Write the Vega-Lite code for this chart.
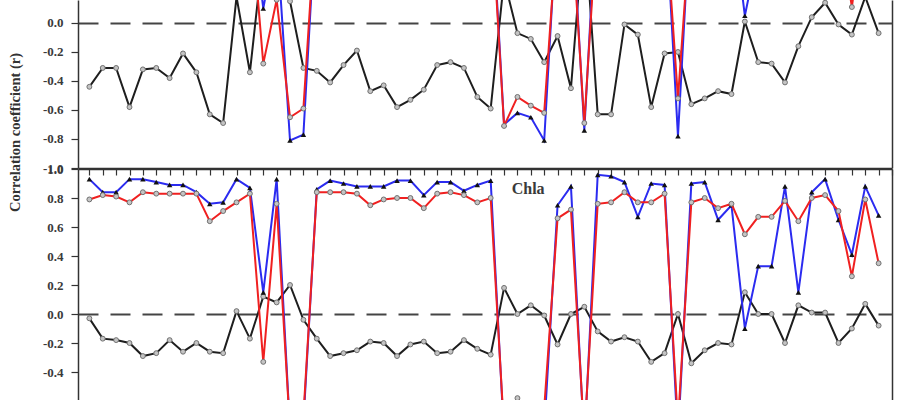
{
  "$schema": "https://vega.github.io/schema/vega-lite/v6.json",
  "background": "white",
  "padding": {"left": 7, "right": 8, "top": 0, "bottom": 0},
  "bounds": "flush",
  "spacing": 1,
  "config": {
    "view": {"stroke": null},
    "axis": {
      "labelFont": "Liberation Serif", "labelFontWeight": "bold", "labelFontSize": 13, "labelColor": "#3a3a3a",
      "domainColor": "#333333", "domainWidth": 1.5, "tickColor": "#333333", "tickWidth": 1.2,
      "titleFont": "Liberation Serif", "titleFontWeight": "bold", "titleFontSize": 14.5, "titleColor": "#333333"
    }
  },
  "datasets": {
    "top": [
      {"i":0,"black":-0.44,"blue":0.92,"red":0.80},{"i":1,"black":-0.31,"blue":0.85,"red":0.82},{"i":2,"black":-0.31,"blue":0.85,"red":0.81},
      {"i":3,"black":-0.58,"blue":0.92,"red":0.78},{"i":4,"black":-0.32,"blue":0.92,"red":0.84},{"i":5,"black":-0.31,"blue":0.90,"red":0.83},
      {"i":6,"black":-0.38,"blue":0.89,"red":0.83},{"i":7,"black":-0.21,"blue":0.89,"red":0.83},{"i":8,"black":-0.34,"blue":0.85,"red":0.83},
      {"i":9,"black":-0.63,"blue":0.77,"red":0.66},{"i":10,"black":-0.69,"blue":0.78,"red":0.72},{"i":11,"black":0.18,"blue":0.90,"red":0.77},
      {"i":12,"black":-0.34,"blue":0.87,"red":0.82},{"i":13,"black":0.50,"blue":0.10,"red":-0.28},{"i":14,"black":0.50,"blue":0.60,"red":0.16},
      {"i":15,"black":0.15,"blue":-0.81,"red":-0.65},{"i":16,"black":-0.31,"blue":-0.77,"red":-0.59},{"i":17,"black":-0.33,"blue":0.86,"red":0.84},
      {"i":18,"black":-0.41,"blue":0.92,"red":0.84},{"i":19,"black":-0.29,"blue":0.90,"red":0.84},{"i":20,"black":-0.19,"blue":0.88,"red":0.83},
      {"i":21,"black":-0.47,"blue":0.88,"red":0.76},{"i":22,"black":-0.43,"blue":0.88,"red":0.79},{"i":23,"black":-0.58,"blue":0.92,"red":0.80},
      {"i":24,"black":-0.53,"blue":0.92,"red":0.80},{"i":25,"black":-0.46,"blue":0.83,"red":0.74},{"i":26,"black":-0.29,"blue":0.91,"red":0.83},
      {"i":27,"black":-0.27,"blue":0.91,"red":0.84},{"i":28,"black":-0.31,"blue":0.85,"red":0.82},{"i":29,"black":-0.51,"blue":0.89,"red":0.78},
      {"i":30,"black":-0.59,"blue":0.92,"red":0.85},{"i":31,"black":0.30,"blue":-0.70,"red":-0.71},{"i":32,"black":-0.07,"blue":-0.62,"red":-0.51},
      {"i":33,"black":-0.11,"blue":-0.65,"red":-0.57},{"i":34,"black":-0.27,"blue":-0.81,"red":-0.62},{"i":35,"black":-0.09,"blue":0.80,"red":0.70},
      {"i":36,"black":-0.45,"blue":0.88,"red":0.75},{"i":37,"black":0.70,"blue":-0.74,"red":-0.69},{"i":38,"black":-0.63,"blue":0.95,"red":0.78},
      {"i":39,"black":-0.63,"blue":0.94,"red":0.78},{"i":40,"black":-0.01,"blue":0.90,"red":0.83},{"i":41,"black":-0.08,"blue":0.70,"red":0.78},
      {"i":42,"black":-0.58,"blue":0.90,"red":0.78},{"i":43,"black":-0.21,"blue":0.89,"red":0.82},{"i":44,"black":-0.20,"blue":-0.78,"red":-0.52},
      {"i":45,"black":-0.56,"blue":0.90,"red":0.78},{"i":46,"black":-0.52,"blue":0.90,"red":0.80},{"i":47,"black":-0.47,"blue":0.70,"red":0.74},
      {"i":48,"black":-0.49,"blue":0.80,"red":0.76},{"i":49,"black":0.01,"blue":0.05,"red":0.55},{"i":50,"black":-0.27,"blue":0.50,"red":0.68},
      {"i":51,"black":-0.28,"blue":0.50,"red":0.68},{"i":52,"black":-0.41,"blue":0.88,"red":0.78},{"i":53,"black":-0.16,"blue":0.40,"red":0.65},
      {"i":54,"black":0.04,"blue":0.85,"red":0.80},{"i":55,"black":0.14,"blue":0.92,"red":0.82},{"i":56,"black":-0.01,"blue":0.70,"red":0.72},
      {"i":57,"black":-0.08,"blue":0.50,"red":0.11},{"i":58,"black":0.18,"blue":0.88,"red":0.80},{"i":59,"black":-0.07,"blue":0.70,"red":0.50}
    ],
    "bottom": [
      {"i":0,"black":-0.03,"blue":0.93,"red":0.79},{"i":1,"black":-0.17,"blue":0.84,"red":0.82},{"i":2,"black":-0.18,"blue":0.84,"red":0.81},
      {"i":3,"black":-0.20,"blue":0.93,"red":0.77},{"i":4,"black":-0.29,"blue":0.93,"red":0.84},{"i":5,"black":-0.27,"blue":0.91,"red":0.83},
      {"i":6,"black":-0.18,"blue":0.89,"red":0.83},{"i":7,"black":-0.26,"blue":0.89,"red":0.83},{"i":8,"black":-0.20,"blue":0.84,"red":0.83},
      {"i":9,"black":-0.26,"blue":0.76,"red":0.64},{"i":10,"black":-0.27,"blue":0.77,"red":0.71},{"i":11,"black":0.02,"blue":0.93,"red":0.77},
      {"i":12,"black":-0.17,"blue":0.87,"red":0.83},{"i":13,"black":0.12,"blue":0.15,"red":-0.33},{"i":14,"black":0.08,"blue":0.93,"red":0.76},
      {"i":15,"black":0.20,"blue":-0.80,"red":-0.80},{"i":16,"black":-0.04,"blue":-0.75,"red":-0.70},{"i":17,"black":-0.17,"blue":0.86,"red":0.84},
      {"i":18,"black":-0.29,"blue":0.92,"red":0.84},{"i":19,"black":-0.27,"blue":0.90,"red":0.84},{"i":20,"black":-0.25,"blue":0.88,"red":0.83},
      {"i":21,"black":-0.19,"blue":0.88,"red":0.75},{"i":22,"black":-0.20,"blue":0.88,"red":0.79},{"i":23,"black":-0.29,"blue":0.92,"red":0.80},
      {"i":24,"black":-0.21,"blue":0.92,"red":0.80},{"i":25,"black":-0.19,"blue":0.82,"red":0.73},{"i":26,"black":-0.27,"blue":0.91,"red":0.83},
      {"i":27,"black":-0.26,"blue":0.91,"red":0.84},{"i":28,"black":-0.18,"blue":0.85,"red":0.82},{"i":29,"black":-0.24,"blue":0.89,"red":0.77},
      {"i":30,"black":-0.28,"blue":0.92,"red":0.80},{"i":31,"black":0.18,"blue":-0.85,"red":-0.80},{"i":32,"black":0.00,"blue":-0.70,"red":-0.58},
      {"i":33,"black":0.06,"blue":-0.75,"red":-0.70},{"i":34,"black":-0.01,"blue":-0.80,"red":-0.65},{"i":35,"black":-0.21,"blue":0.75,"red":0.66},
      {"i":36,"black":0.00,"blue":0.88,"red":0.72},{"i":37,"black":0.05,"blue":-0.90,"red":-0.85},{"i":38,"black":-0.12,"blue":0.96,"red":0.76},
      {"i":39,"black":-0.19,"blue":0.95,"red":0.77},{"i":40,"black":-0.16,"blue":0.91,"red":0.84},{"i":41,"black":-0.19,"blue":0.67,"red":0.77},
      {"i":42,"black":-0.33,"blue":0.90,"red":0.77},{"i":43,"black":-0.27,"blue":0.89,"red":0.83},{"i":44,"black":0.00,"blue":-0.85,"red":-0.75},
      {"i":45,"black":-0.34,"blue":0.90,"red":0.77},{"i":46,"black":-0.25,"blue":0.91,"red":0.80},{"i":47,"black":-0.20,"blue":0.65,"red":0.73},
      {"i":48,"black":-0.21,"blue":0.75,"red":0.76},{"i":49,"black":0.15,"blue":-0.10,"red":0.55},{"i":50,"black":0.00,"blue":0.33,"red":0.67},
      {"i":51,"black":0.00,"blue":0.33,"red":0.67},{"i":52,"black":-0.20,"blue":0.88,"red":0.78},{"i":53,"black":0.06,"blue":0.15,"red":0.64},
      {"i":54,"black":0.01,"blue":0.84,"red":0.80},{"i":55,"black":0.01,"blue":0.93,"red":0.82},{"i":56,"black":-0.20,"blue":0.65,"red":0.71},
      {"i":57,"black":-0.10,"blue":0.41,"red":0.26},{"i":58,"black":0.07,"blue":0.88,"red":0.79},{"i":59,"black":-0.08,"blue":0.68,"red":0.35}
    ]
  },
  "vconcat": [
    {
      "width": 814, "height": 168,
      "data": {"name": "top"},
      "encoding": {
        "x": {"field": "i", "type": "quantitative", "scale": {"domain": [-0.85, 60], "nice": false, "zero": false},
          "axis": {"orient": "bottom", "title": null, "labels": false, "ticks": false, "values": [60], "grid": true,
            "gridColor": {"condition": {"test": "datum.value === 60", "value": "#333333"}, "value": "transparent"}, "gridWidth": 1.5}},
        "y": {"field": "r", "type": "quantitative", "scale": {"domain": [-1, 0.1586], "nice": false, "zero": false},
          "axis": {"values": [0, -0.2, -0.4, -0.6, -0.8, -1], "format": ".1f", "labelExpr": "replace(datum.label, '\u2212', '-')",
            "tickSize": 7, "labelPadding": 8, "grid": true,
            "gridColor": {"condition": {"test": "datum.value === 0", "value": "#444444"}, "value": "transparent"},
            "gridDash": [20, 12], "gridWidth": 2,
            "title": "Correlation coefficient (r)", "titleX": -63, "titleY": 132, "titleAngle": 270, "titleBaseline": "middle", "titleAlign": "center"}}
      },
      "layer": [
        {"transform": [{"fold": ["black", "blue", "red"], "as": ["s", "r"]}, {"filter": "datum.s === 'black'"}],
         "mark": {"type": "line", "color": "#1e1e1e", "strokeWidth": 2, "clip": true}},
        {"transform": [{"fold": ["black", "blue", "red"], "as": ["s", "r"]}, {"filter": "datum.s === 'black'"}],
         "mark": {"type": "point", "shape": "circle", "filled": true, "fill": "#c4c4c4", "stroke": "#707070", "strokeWidth": 1, "size": 24, "opacity": 1, "clip": true}},
        {"transform": [{"fold": ["black", "blue", "red"], "as": ["s", "r"]}, {"filter": "datum.s === 'blue'"}],
         "mark": {"type": "line", "color": "#2b2bf0", "strokeWidth": 2, "clip": true}},
        {"transform": [{"fold": ["black", "blue", "red"], "as": ["s", "r"]}, {"filter": "datum.s === 'blue'"}],
         "mark": {"type": "point", "shape": "triangle-up", "filled": true, "color": "#111111", "size": 30, "opacity": 1, "clip": true}},
        {"transform": [{"fold": ["black", "blue", "red"], "as": ["s", "r"]}, {"filter": "datum.s === 'red'"}],
         "mark": {"type": "line", "color": "#f02020", "strokeWidth": 2, "clip": true}},
        {"transform": [{"fold": ["black", "blue", "red"], "as": ["s", "r"]}, {"filter": "datum.s === 'red'"}],
         "mark": {"type": "point", "shape": "circle", "filled": true, "fill": "#c4c4c4", "stroke": "#707070", "strokeWidth": 1, "size": 24, "opacity": 1, "clip": true}}
      ]
    },
    {
      "width": 814, "height": 231,
      "data": {"name": "bottom"},
      "encoding": {
        "x": {"field": "i", "type": "quantitative", "scale": {"domain": [-0.85, 60], "nice": false, "zero": false},
          "axis": {"orient": "top", "title": null, "labels": false, "tickSize": -6, "tickWidth": 1.2,
            "values": [0,1,2,3,4,5,6,7,8,9,10,11,12,13,14,15,16,17,18,19,20,21,22,23,24,25,26,27,28,29,30,31,32,33,34,35,36,37,38,39,40,41,42,43,44,45,46,47,48,49,50,51,52,53,54,55,56,57,58,59,60],
            "grid": true,
            "gridColor": {"condition": {"test": "datum.value === 60", "value": "#333333"}, "value": "transparent"}, "gridWidth": 1.5}},
        "y": {"field": "r", "type": "quantitative", "scale": {"domain": [-0.593, 1], "nice": false, "zero": false},
          "axis": {"values": [1, 0.8, 0.6, 0.4, 0.2, 0, -0.2, -0.4], "format": ".1f", "labelExpr": "replace(datum.label, '\u2212', '-')",
            "tickSize": 7, "labelPadding": 8, "grid": true,
            "gridColor": {"condition": {"test": "datum.value === 0", "value": "#444444"}, "value": "transparent"},
            "gridDash": [20, 12], "gridWidth": 2, "title": null}}
      },
      "layer": [
        {"transform": [{"fold": ["black", "blue", "red"], "as": ["s", "r"]}, {"filter": "datum.s === 'black'"}],
         "mark": {"type": "line", "color": "#1e1e1e", "strokeWidth": 2, "clip": true}},
        {"transform": [{"fold": ["black", "blue", "red"], "as": ["s", "r"]}, {"filter": "datum.s === 'black'"}],
         "mark": {"type": "point", "shape": "circle", "filled": true, "fill": "#c4c4c4", "stroke": "#707070", "strokeWidth": 1, "size": 24, "opacity": 1, "clip": true}},
        {"transform": [{"fold": ["black", "blue", "red"], "as": ["s", "r"]}, {"filter": "datum.s === 'blue'"}],
         "mark": {"type": "line", "color": "#2b2bf0", "strokeWidth": 2, "clip": true}},
        {"transform": [{"fold": ["black", "blue", "red"], "as": ["s", "r"]}, {"filter": "datum.s === 'blue'"}],
         "mark": {"type": "point", "shape": "triangle-up", "filled": true, "color": "#111111", "size": 30, "opacity": 1, "clip": true}},
        {"transform": [{"fold": ["black", "blue", "red"], "as": ["s", "r"]}, {"filter": "datum.s === 'red'"}],
         "mark": {"type": "line", "color": "#f02020", "strokeWidth": 2, "clip": true}},
        {"transform": [{"fold": ["black", "blue", "red"], "as": ["s", "r"]}, {"filter": "datum.s === 'red'"}],
         "mark": {"type": "point", "shape": "circle", "filled": true, "fill": "#c4c4c4", "stroke": "#707070", "strokeWidth": 1, "size": 24, "opacity": 1, "clip": true}},
        {"data": {"values": [{"i": 32.8, "r": 0.862, "t": "Chla"}]},
         "mark": {"type": "text", "font": "Liberation Serif", "fontWeight": "bold", "fontSize": 16, "color": "#3a3a3a", "align": "center", "baseline": "middle"},
         "encoding": {"text": {"field": "t"}}}
      ]
    }
  ]
}
